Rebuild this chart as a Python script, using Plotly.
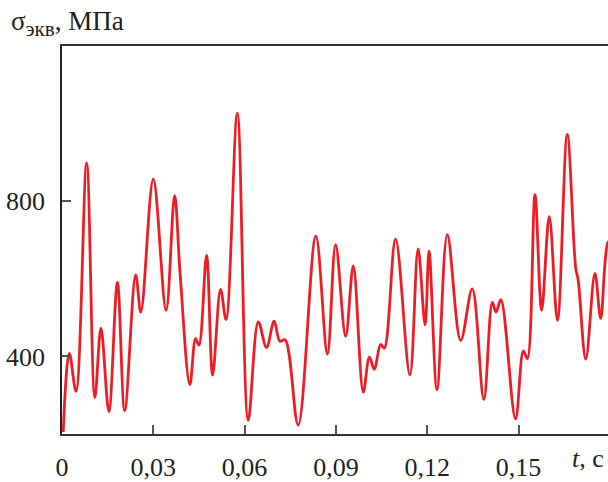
import plotly.graph_objects as go

# time, s
t = [0.0004, 0.0024, 0.0046, 0.0081, 0.0108, 0.0128, 0.0154, 0.0182, 0.0206, 0.0242,
     0.0259, 0.0300, 0.0342, 0.0370, 0.0388, 0.0420, 0.0439, 0.0450, 0.0475, 0.0495,
     0.0521, 0.0539, 0.0576, 0.0612, 0.0645, 0.0672, 0.0697, 0.0716, 0.0733, 0.0776,
     0.0834, 0.0872, 0.0899, 0.0932, 0.0957, 0.0990, 0.1010, 0.1026, 0.1047, 0.1059,
     0.1096, 0.1143, 0.1170, 0.1193, 0.1206, 0.1232, 0.1266, 0.1310, 0.1348, 0.1386,
     0.1414, 0.1426, 0.1442, 0.1490, 0.1516, 0.1529, 0.1554, 0.1576, 0.1601, 0.1628,
     0.1660, 0.1688, 0.1696, 0.1721, 0.1751, 0.1770, 0.1794, 0.1805]
# equivalent stress, MPa
sigma = [205, 408, 310, 899, 294, 473, 258, 591, 260, 610,
         514, 857, 519, 814, 614, 327, 446, 429, 660, 352,
         573, 495, 1027, 235, 489, 423, 491, 439, 443, 223,
         710, 406, 688, 452, 633, 308, 398, 367, 431, 421,
         702, 352, 677, 481, 671, 314, 714, 441, 574, 289,
         539, 514, 546, 239, 414, 394, 817, 519, 760, 493,
         972, 627, 597, 393, 614, 498, 694, 700]

x_tickvals = [0, 0.03, 0.06, 0.09, 0.12, 0.15]
x_ticktext = ["0", "0,03", "0,06", "0,09", "0,12", "0,15"]
y_tickvals = [400, 800]
y_ticktext = ["400", "800"]

FONT = "Liberation Serif"
TXT = "#231F20"

fig = go.Figure()
fig.add_trace(go.Scatter(
    x=t, y=sigma, mode="lines",
    line=dict(color="#EE1D25", width=2.8, shape="spline", smoothing=1.0),
    hoverinfo="skip", showlegend=False,
))

fig.update_layout(
    width=608, height=482,
    margin=dict(l=62, r=0, t=46, b=36),
    paper_bgcolor="white", plot_bgcolor="white",
    font=dict(family=FONT, size=26, color=TXT),
    xaxis=dict(
        range=[0, 0.1794], tickvals=x_tickvals, ticktext=x_ticktext,
        ticks="inside", ticklen=9, tickwidth=1.5, tickcolor="#555",
        showline=True, linecolor="#333", linewidth=1.5, mirror=True,
        showgrid=False, zeroline=False, ticklabelstandoff=9,
        tickfont=dict(family=FONT, size=26, color=TXT),
    ),
    yaxis=dict(
        range=[200, 1200], tickvals=y_tickvals, ticktext=y_ticktext,
        ticks="inside", ticklen=9, tickwidth=1.5, tickcolor="#555",
        showline=True, linecolor="#222", linewidth=1.5, mirror=False,
        showgrid=False, zeroline=False, ticklabelstandoff=10,
        tickfont=dict(family=FONT, size=26, color=TXT),
    ),
    annotations=[
        dict(text="σ<sub><span style='font-size:21px'>экв</span></sub>, МПа",
             xref="paper", yref="paper",
             x=-0.097, y=1.057, xanchor="left", yanchor="middle",
             showarrow=False, font=dict(family=FONT, size=27, color=TXT)),
        dict(text="<i>t</i>, с", xref="paper", yref="paper",
             x=0.93, y=-0.062, xanchor="left", yanchor="middle",
             showarrow=False, font=dict(family=FONT, size=26, color=TXT)),
    ],
)

fig.write_html("out.html")
